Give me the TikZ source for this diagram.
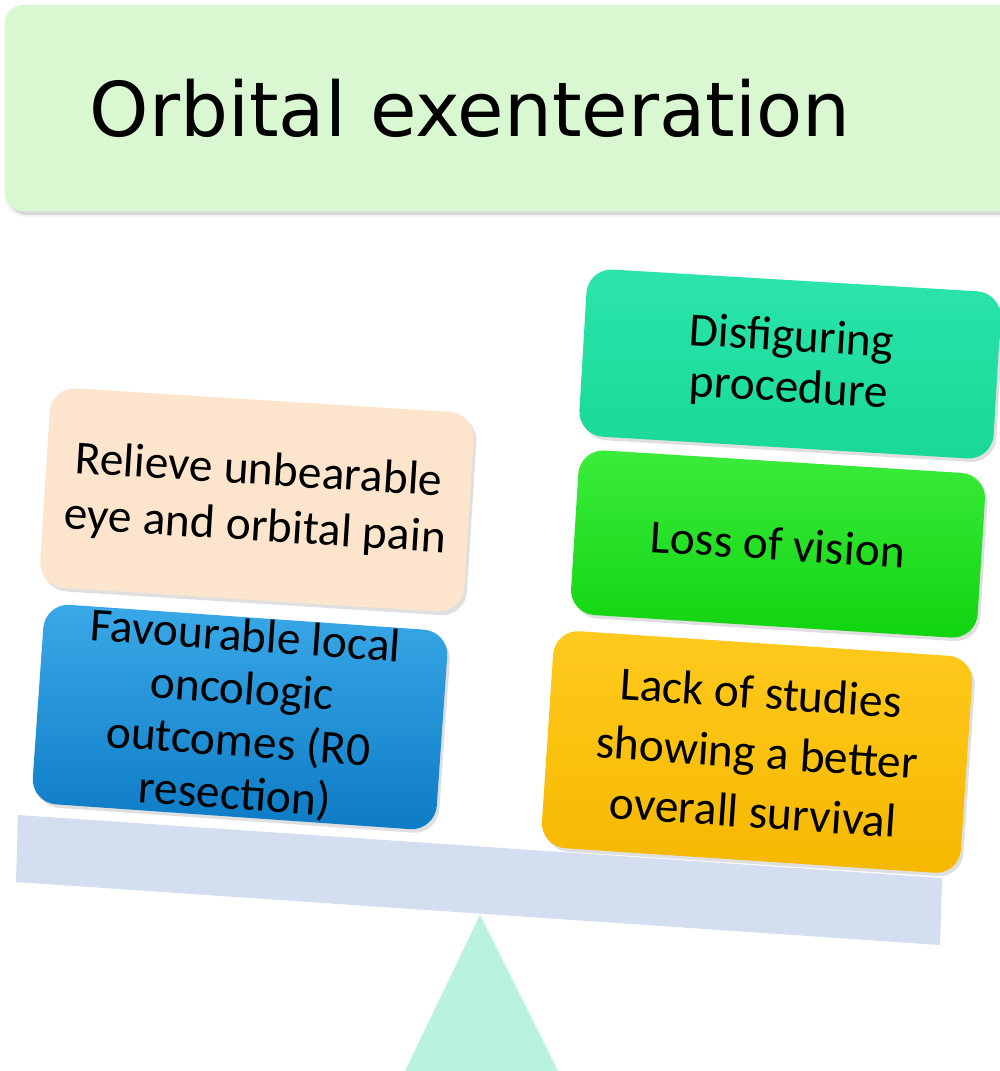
\documentclass[tikz,border=0pt]{standalone}
\usepackage{fontspec}
\setmainfont{Carlito}
\newfontfamily\titlefont{DejaVu Sans}
\usepackage{xcolor}
\usetikzlibrary{shadows}
\definecolor{titlegreen}{HTML}{D9F7D1}
\definecolor{peach}{HTML}{FCE4CD}
\definecolor{bluetop}{HTML}{3AA9E8}
\definecolor{bluebot}{HTML}{0D7BC5}
\definecolor{tealtop}{HTML}{2CE5AC}
\definecolor{tealbot}{HTML}{18D898}
\definecolor{greentop}{HTML}{3CEC3C}
\definecolor{greenbot}{HTML}{10D410}
\definecolor{orangetop}{HTML}{FFCA1E}
\definecolor{orangebot}{HTML}{F6B800}
\definecolor{beamblue}{HTML}{D3DEF0}
\definecolor{fulcrum}{HTML}{B9F2E1}

\begin{document}
\begin{tikzpicture}[x=0.02cm, y=-0.02cm,
  card/.style={rounded corners=5mm, inner sep=0pt, align=center,
    drop shadow={opacity=0.25, shadow xshift=1.5pt, shadow yshift=-2pt}},
  cardtext/.style={font=\fontsize{27}{#1}\selectfont},
]
\clip (0,0) rectangle (1000,1071);
\fill[white] (0,0) rectangle (1000,1071);

\node[card, fill=titlegreen, rounded corners=4mm, minimum width=20.3cm, minimum height=4.14cm,
      drop shadow={opacity=0.08, shadow xshift=0pt, shadow yshift=-3pt}] (title) at (512,108) {};
\node[font=\titlefont\fontsize{43}{50}\selectfont] (titletext) at (470,108) {Orbital exenteration};

\fill[beamblue] (18,815) -- (942,878) -- (940,945) -- (16,882) -- cycle;
\fill[fulcrum] (480,915) -- (558,1071) -- (405,1071) -- cycle;

\node[card, cardtext=32, fill=peach, minimum width=8.5cm, minimum height=4.0cm, rotate=-3.6] (relieve) at (257,500)
  {Relieve unbearable\\eye and orbital pain};
\node[card, cardtext=30, top color=bluetop, bottom color=bluebot, minimum width=8.1cm, minimum height=4.0cm, rotate=-4] (favour) at (240,717)
  {Favourable local\\oncologic\\outcomes (R0\\resection)};

\node[card, cardtext=29, top color=tealtop, bottom color=tealbot, minimum width=8.3cm, minimum height=3.35cm, rotate=-3.4] (disfig) at (790,364)
  {Disfiguring\\procedure};
\node[card, cardtext=31, top color=greentop, bottom color=greenbot, minimum width=8.15cm, minimum height=3.3cm, rotate=-3.6] (loss) at (778,544)
  {Loss of vision};
\node[card, cardtext=34, top color=orangetop, bottom color=orangebot, minimum width=8.4cm, minimum height=4.35cm, rotate=-3.8] (lack) at (757,752)
  {Lack of studies\\showing a better\\overall survival};
\end{tikzpicture}
\end{document}
